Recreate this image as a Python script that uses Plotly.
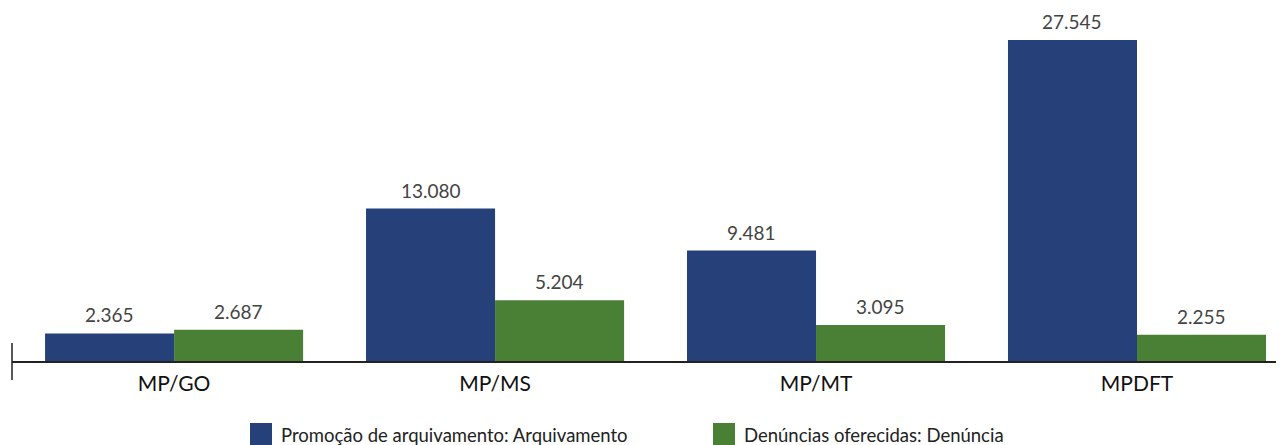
import plotly.graph_objects as go

categories = ["MP/GO", "MP/MS", "MP/MT", "MPDFT"]
arquivamento = [2365, 13080, 9481, 27545]
denuncia = [2687, 5204, 3095, 2255]
arq_labels = ["2.365", "13.080", "9.481", "27.545"]
den_labels = ["2.687", "5.204", "3.095", "2.255"]
series_names = ["Promoção de arquivamento: Arquivamento", "Denúncias oferecidas: Denúncia"]
colors = ["#26407A", "#4A7F36"]

FONT = "Lato"
OFF = 8  # page body margin
W, H = 1284 - OFF, 445 - OFF
ML = 12 - OFF
PB = 361 - OFF  # plot bottom in figure px
MB = H - PB
PW, PH = W - ML, PB
BARGAP = 0.196
half = (1 - BARGAP) / 4


def py(page_y):
    return (PH - (page_y - OFF)) / PH


def px(page_x):
    return (page_x - OFF - ML) / PW


fig = go.Figure()
for name, vals, col in zip(series_names, [arquivamento, denuncia], colors):
    fig.add_trace(go.Bar(x=categories, y=vals, name=name,
                         marker=dict(color=col, line=dict(width=0)),
                         showlegend=False))

annotations = []
for i, cat in enumerate(categories):
    for off, vals, labs in [(-half, arquivamento, arq_labels), (half, denuncia, den_labels)]:
        annotations.append(dict(x=i + off, y=vals[i], xref="x", yref="y",
                                text=labs[i], showarrow=False, yanchor="bottom",
                                yshift=5, font=dict(size=19, color="#444444", family=FONT)))

shapes = [dict(type="line", xref="paper", yref="paper", x0=0, x1=0,
               y0=py(380), y1=py(343), line=dict(color="#222222", width=1.5))]
leg_x = [250, 713]
for k, (name, col) in enumerate(zip(series_names, colors)):
    shapes.append(dict(type="rect", xref="paper", yref="paper",
                       x0=px(leg_x[k]), x1=px(leg_x[k] + 22),
                       y0=py(423), y1=py(446),
                       fillcolor=col, line=dict(width=0)))
    annotations.append(dict(x=px(leg_x[k] + 29), y=py(435),
                            xref="paper", yref="paper", xanchor="left", yanchor="middle",
                            text=name, showarrow=False,
                            font=dict(size=18.5, color="#222222", family=FONT)))

fig.update_layout(
    width=W, height=H,
    margin=dict(l=ML, r=0, t=0, b=MB, autoexpand=False),
    plot_bgcolor="white", paper_bgcolor="white",
    barmode="group", bargap=BARGAP, bargroupgap=0,
    font=dict(family=FONT, color="#111111"),
    showlegend=False,
    xaxis=dict(range=[-0.505, 3.458], showgrid=False, showline=True,
               linecolor="#222222", linewidth=1.5, ticks="", ticklabelstandoff=3,
               tickfont=dict(size=21, color="#111111", family=FONT)),
    yaxis=dict(range=[0, 27545 * PH / 321], visible=False, showgrid=False),
    shapes=shapes,
    annotations=annotations,
)
fig.write_html("out.html")
